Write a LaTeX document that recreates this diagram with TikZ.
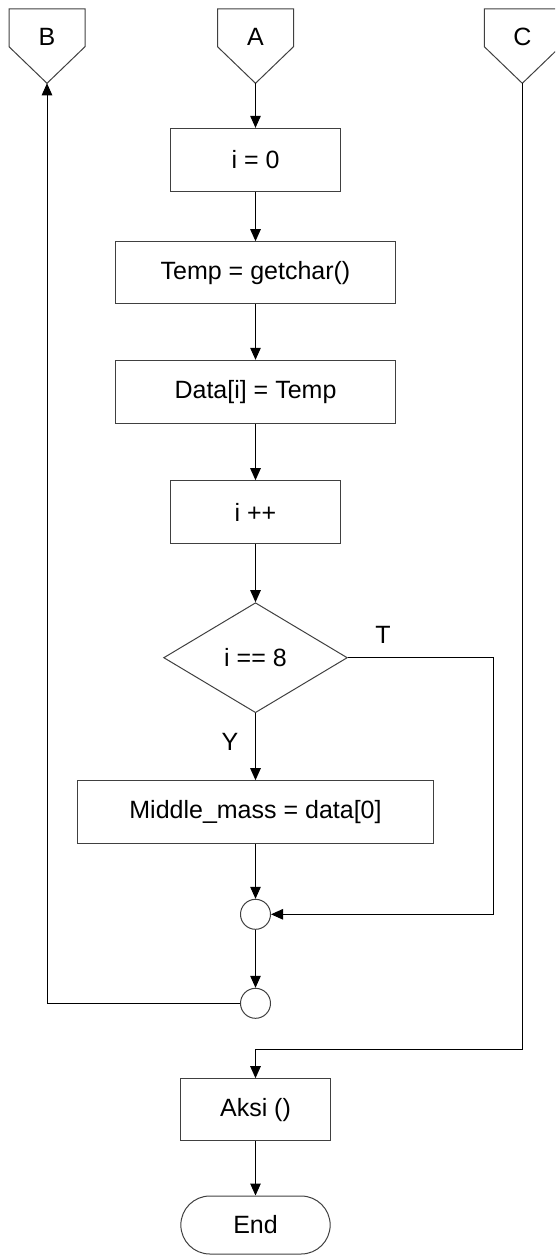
\documentclass[tikz,border=0pt]{standalone}
\usepackage{fontspec}
\setmainfont{Liberation Sans}
\usetikzlibrary{arrows.meta,shapes.geometric,shapes.misc}

\tikzset{
  every node/.style={font=\fontsize{25}{30}\selectfont, inner sep=0pt},
  shapeline/.style={draw=black!75, line width=1pt},
  procbox/.style={shapeline, rectangle, fill=white},
  decision/.style={shapeline, diamond, minimum width=183.7pt, minimum height=110pt},
  junction/.style={shapeline, circle, minimum size=30pt},
  terminal/.style={shapeline, rounded rectangle, minimum width=149.3pt, minimum height=58pt},
  flow/.style={black, line width=1pt, -{Triangle[length=12pt,width=10.5pt]}},
  tag/.style={font=\fontsize{25}{30}\selectfont}
}

\begin{document}
\begin{tikzpicture}[x=1pt, y=-1pt]
  \useasboundingbox (0,0) rectangle (555,1255);
  \clip (0,0) rectangle (555,1255);

  % off-page connectors B, A, C
  \foreach \n/\x in {B/47, A/255.5, C/522.3}{
    \draw[shapeline] (\x-38,9) -- (\x+38,9) -- (\x+38,46.7) -- (\x,83.3)
                     -- (\x-38,46.7) -- cycle;
    \node[tag] (\n) at (\x,37) {\n};
    \coordinate (\n tip) at (\x,83.3);
  }

  % main column
  \node[procbox, minimum width=170.5pt, minimum height=62.7pt] (i0)   at (255.5,159.7) {i = 0};
  \node[procbox, minimum width=279.7pt, minimum height=62pt]   (temp) at (255.5,272.7) {Temp = getchar()};
  \node[procbox, minimum width=279.7pt, minimum height=63pt]   (data) at (255.5,391.8) {Data[i] = Temp};
  \node[procbox, minimum width=169.7pt, minimum height=62.6pt] (inc)  at (255.5,512)   {i ++};
  \node[decision] (cond) at (255.5,657.7) {i == 8};
  \node[procbox, minimum width=356.6pt, minimum height=62.6pt] (mid)  at (255.5,812)   {Middle\_mass = data[0]};
  \node[junction] (j1) at (255.5,914.3) {};
  \node[junction] (j2) at (255.5,1003.3) {};
  \node[procbox, minimum width=149.3pt, minimum height=62pt]   (aksi) at (255.5,1109.7) {Aksi ()};
  \node[terminal] (end) at (255.5,1225) {End};

  % branch labels
  \node[tag] (tlab) at (383,635) {T};
  \node[tag] (ylab) at (230,742) {Y};

  % routing corners
  \coordinate (tright) at (493,657.7);
  \coordinate (cturn)  at (522.3,1049);

  % connectors
  \draw[flow] (Atip) -- (i0.north);
  \draw[flow] (i0.south) -- (temp.north);
  \draw[flow] (temp.south) -- (data.north);
  \draw[flow] (data.south) -- (inc.north);
  \draw[flow] (inc.south) -- (cond.north);
  \draw[flow] (cond.south) -- (mid.north);
  \draw[flow] (cond.east) -- (tright) |- (j1.east);
  \draw[flow] (mid.south) -- (j1.north);
  \draw[flow] (j1.south) -- (j2.north);
  \draw[flow] (j2.west) -| (Btip);
  \draw[flow] (Ctip) -- (cturn) -| (aksi.north);
  \draw[flow] (aksi.south) -- (end.north);
\end{tikzpicture}
\end{document}
